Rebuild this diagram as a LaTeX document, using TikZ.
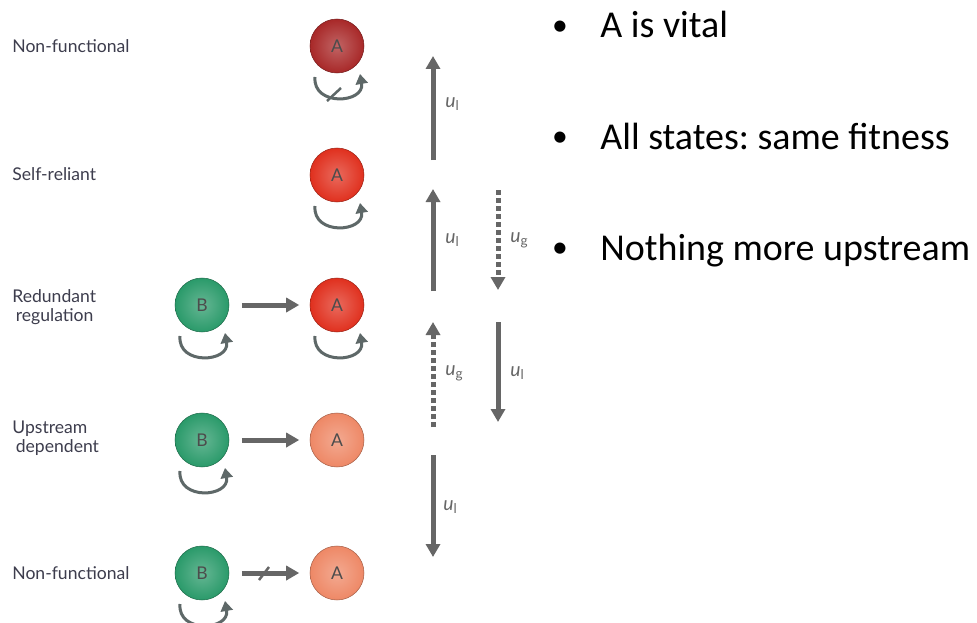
\documentclass[tikz,border=0pt]{standalone}
\usepackage{fontspec}
\setmainfont{Lato}
\newfontfamily\slidefont{Carlito}
\usetikzlibrary{arrows.meta}
\definecolor{dred}{HTML}{A82828}
\definecolor{mred}{HTML}{E0301E}
\definecolor{salmon}{HTML}{EE8866}
\definecolor{mgreen}{HTML}{2A9A6A}
\definecolor{mgrey}{HTML}{666666}
\definecolor{lgrey}{HTML}{5E6868}
\definecolor{ink}{HTML}{3D3D4D}
\tikzset{gene/.style = {circle, minimum size = 10.8mm, inner sep = 0,
                        inner color = #1!72!white, outer color = #1,
                        draw = #1!70!black, line width = 0.3pt,
                        text = black!70, font = \fontsize{10}{10}\selectfont}}
\tikzset{selfloop/.style = {draw = lgrey, line width = 0.6mm,
                            -{Triangle[length = 2mm, width = 2.4mm]}}}
\tikzset{flow/.style = {draw = mgrey, line width = 1mm,
                        -{Triangle[length = 2.6mm, width = 2.8mm]}}}
\tikzset{gflow/.style = {flow, dash pattern = on 1mm off 0.6mm}}
\tikzset{rate/.style = {anchor = west, text = mgrey, inner sep = 0,
                        font = \fontsize{11}{11}\selectfont\itshape}}
\tikzset{state/.style = {anchor = west, align = left, inner sep = 0, text = ink,
                         font = \fontsize{10}{10.8}\selectfont}}
\tikzset{point/.style = {anchor = base west, inner sep = 0,
                         font = \slidefont\fontsize{21.6}{21.6}\selectfont\frenchspacing}}
\tikzset{dot/.style = {inner sep = 0, font = \slidefont\fontsize{18}{18}\selectfont}}

\begin{document}
\begin{tikzpicture}[x = 0.2mm, y = -0.2mm]
      \useasboundingbox [fill = white] (0, 0) rectangle (977, 623);

      % genes A and B, one row per state
      \foreach \n/\y/\c in {1/46/dred, 2/175/mred, 3/305/mred, 4/440/salmon, 5/573/salmon} {
        \node [gene = \c] (a\n) at (337, \y) {A};
      }
      \foreach \n/\y in {3/305, 4/440, 5/573} {
        \node [gene = mgreen] (b\n) at (202, \y) {B};
      }

      % self-regulation loops
      \foreach \n in {a1, a2, a3, b3, b4, b5} {
        \draw [selfloop] ([shift = {(-22, 31)}]\n.center)
          to [out = -95, in = -80, looseness = 1.7] ([shift = {(23, 28)}]\n.center);
      }
      \draw [lgrey, line width = 0.5mm] ([shift = {(-10, 55)}]a1.center) -- ++(14, -13);

      % B regulates A
      \foreach \n in {3, 4, 5} {
        \draw [flow, shorten <= 2.5mm, shorten >= 2.1mm] (b\n) -- (a\n);
      }
      \draw [mgrey, line width = 0.5mm] (259, 580) -- ++(10, -13);

      \node [state] (s1) at (12, 46) {Non-functional};
      \node [state] (s2) at (12, 174) {Self-reliant};
      \node [state] (s3) at (12, 307) {Redundant\\\hspace{2pt}regulation};
      \node [state] (s4) at (12, 438) {Upstream\\\hspace{2pt}dependent};
      \node [state] (s5) at (12, 573) {Non-functional};

      % transitions between states
      \coordinate (l1s) at (433, 160);  \coordinate (l1e) at (433, 56);
      \coordinate (l2s) at (433, 291);  \coordinate (l2e) at (433, 189);
      \coordinate (g1s) at (433, 427);  \coordinate (g1e) at (433, 322);
      \coordinate (l3s) at (433, 455);  \coordinate (l3e) at (433, 557);
      \coordinate (g2s) at (498, 190);  \coordinate (g2e) at (498, 290);
      \coordinate (l4s) at (498, 322);  \coordinate (l4e) at (498, 422);

      \draw [flow] (l1s) -- (l1e);
      \draw [flow] (l2s) -- (l2e);
      \draw [gflow] (g1s) -- (g1e);
      \draw [flow] (l3s) -- (l3e);
      \draw [gflow] (g2s) -- (g2e);
      \draw [flow] (l4s) -- (l4e);

      \node [rate] (u1) at (445, 104) {u\textsubscript{\upshape l}};
      \node [rate] (u2) at (445, 240) {u\textsubscript{\upshape l}};
      \node [rate] (u3) at (445, 373) {u\textsubscript{\upshape g}};
      \node [rate] (u4) at (443, 507) {u\textsubscript{\upshape l}};
      \node [rate] (u5) at (510, 240) {u\textsubscript{\upshape g}};
      \node [rate] (u6) at (510, 373) {u\textsubscript{\upshape l}};

      % bullet points
      \foreach \n/\y/\txt in {1/38/A is vital, 2/149/All states: same fitness,
                              3/260/Nothing more upstream} {
        \node [point] (p\n) at (600, \y) {\txt};
        \node [dot] (d\n) at (560, \y - 10) {•};
      }
    \end{tikzpicture}
\end{document}
